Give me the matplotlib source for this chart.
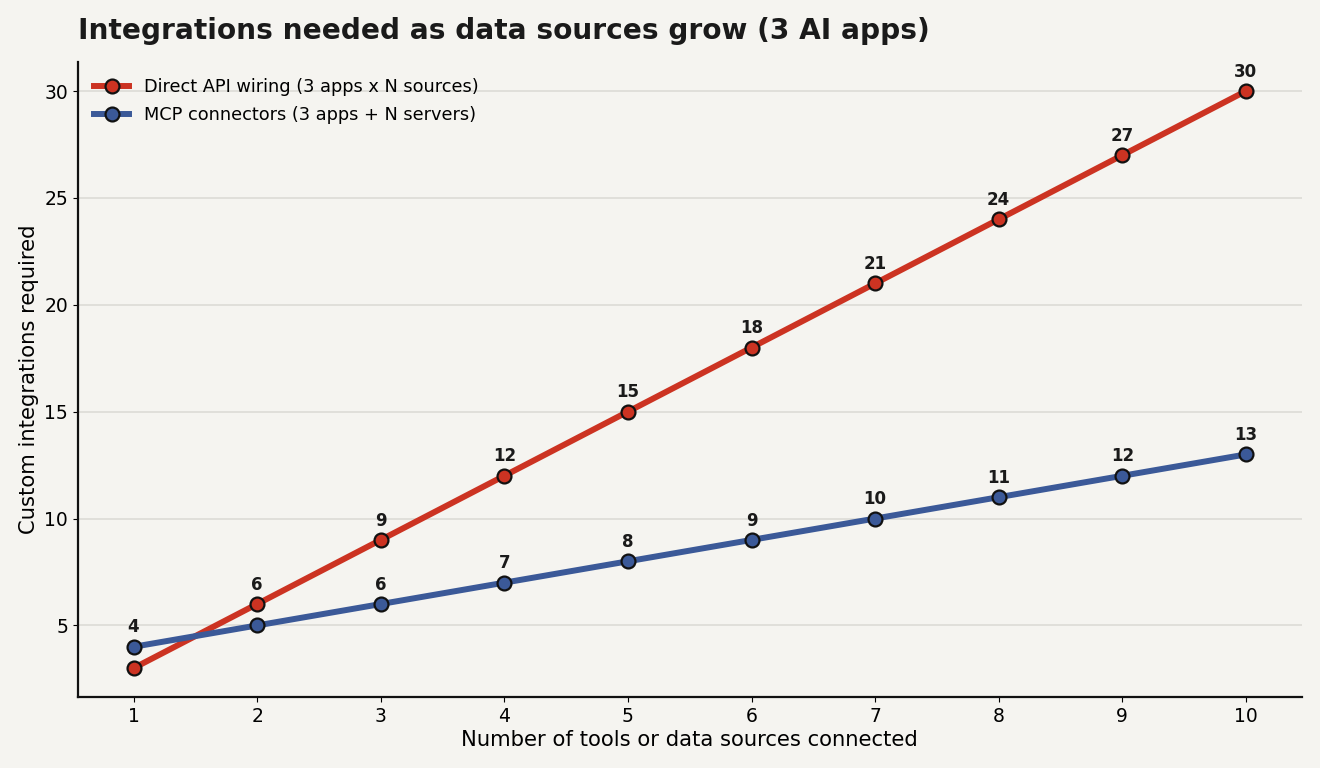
import matplotlib.pyplot as plt

sources = [1, 2, 3, 4, 5, 6, 7, 8, 9, 10]
direct = [3, 6, 9, 12, 15, 18, 21, 24, 27, 30]
mcp = [4, 5, 6, 7, 8, 9, 10, 11, 12, 13]

bg = "#f5f4f0"
red = "#cc3322"
blue = "#3b5998"

fig = plt.figure(figsize=(13.2, 7.68), dpi=100, facecolor=bg)
ax = fig.add_axes([0.059, 0.0924, 0.927, 0.8266], facecolor=bg)

ax.plot(sources, direct, color=red, lw=4.3, marker="o", ms=10, mfc=red,
        mec="#111111", mew=1.6, label="Direct API wiring (3 apps x N sources)", zorder=3)
ax.plot(sources, mcp, color=blue, lw=4.3, marker="o", ms=10, mfc=blue,
        mec="#111111", mew=1.6, label="MCP connectors (3 apps + N servers)", zorder=3)

# value labels sit under the markers so overlapping ones get hidden
for x, y in zip(sources, direct):
    ax.annotate(str(y), (x, y), xytext=(0, 7.5), textcoords="offset points",
                ha="center", va="bottom", fontsize=12, fontweight="bold",
                color="#1a1a1a", zorder=2)
for x, y in zip(sources, mcp):
    ax.annotate(str(y), (x, y), xytext=(0, 7.5), textcoords="offset points",
                ha="center", va="bottom", fontsize=12, fontweight="bold",
                color="#1a1a1a", zorder=2)

ax.set_xticks(sources)
ax.set_yticks([5, 10, 15, 20, 25, 30])
ax.tick_params(labelsize=13.5)
ax.grid(axis="y", color="#dcdbd6", lw=1.2)
ax.set_axisbelow(True)
for s in ["top", "right"]:
    ax.spines[s].set_visible(False)
for s in ["left", "bottom"]:
    ax.spines[s].set_linewidth(1.6)
    ax.spines[s].set_color("#111111")

ax.set_xlabel("Number of tools or data sources connected", fontsize=15.2, labelpad=3)
ax.set_ylabel("Custom integrations required", fontsize=15.2)
ax.set_title("Integrations needed as data sources grow (3 AI apps)", loc="left",
             fontsize=20.2, fontweight="bold", color="#1a1a1a", pad=17)

ax.legend(loc="upper left", frameon=False, fontsize=12.8, labelspacing=0.55)

fig.savefig("out.png", dpi=100, facecolor=bg)
